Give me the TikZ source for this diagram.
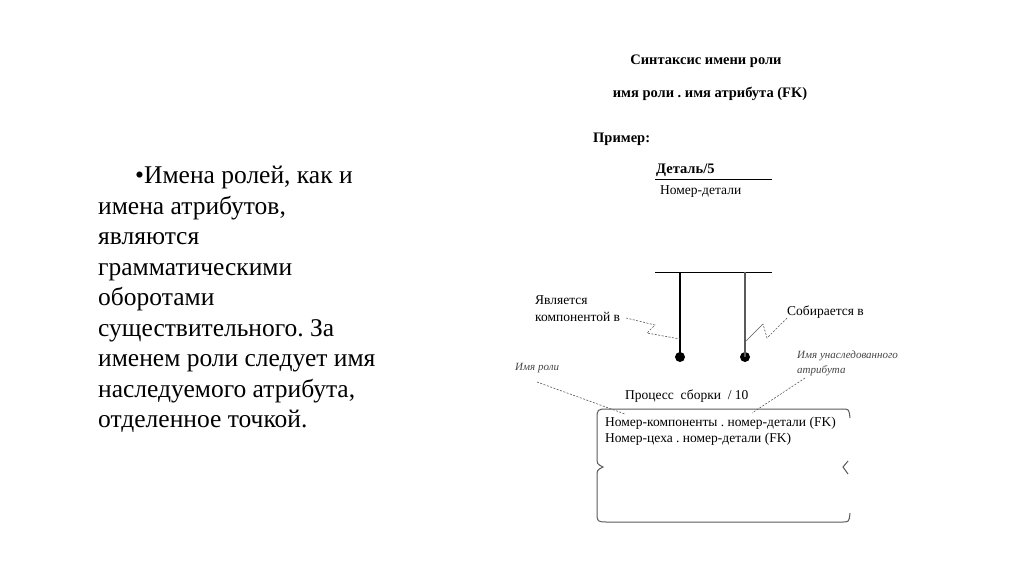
\documentclass[tikz,border=0pt]{standalone}
\usepackage{fontspec}
\setmainfont{Liberation Serif}
\usetikzlibrary{positioning}
\definecolor{linegrey}{RGB}{90,90,90}
\definecolor{notegrey}{RGB}{70,70,70}
\tikzset{
    bullettext/.style={
        anchor=north west,
        inner sep=0pt,
        align=left,
        font=\fontsize{25.5}{30.5}\selectfont
    },
    headline/.style={
        inner sep=0pt,
        font=\fontsize{14.5}{16}\selectfont\bfseries
    },
    plainlabel/.style={
        inner sep=0pt,
        align=left,
        font=\fontsize{13.5}{17}\selectfont
    },
    notelabel/.style={
        inner sep=0pt,
        align=left,
        text=notegrey,
        font=\fontsize{11}{15}\selectfont\itshape
    },
    leader/.style={
        linegrey,
        line width=0.6pt,
        dash pattern=on 2pt off 1.5pt
    },
    frame/.style={linegrey, line width=1pt},
    pin/.style={circle, fill=black, inner sep=0pt, minimum size=10pt}
}
\frenchspacing

\begin{document}
\begin{tikzpicture}[x=1pt,y=-1pt]

\useasboundingbox[fill=white] (0,0) rectangle (1024,576);

% ------------------------------------------------------------
% Left text
% ------------------------------------------------------------

\node[bullettext] (bullet) at (98,166)
{\hspace*{37pt}•Имена ролей, как и\\
имена атрибутов,\\
являются\\
грамматическими\\
оборотами\\
существительного. За\\
именем роли следует имя\\
наследуемого атрибута,\\
отделенное точкой.};

% ------------------------------------------------------------
% Syntax header
% ------------------------------------------------------------

\node[headline, anchor=base] (title) at (706,64)
{Синтаксис имени роли};

\node[headline, anchor=base] (syntax) at (710,97)
{имя роли . имя атрибута (FK)};

\node[headline, anchor=base west] (example) at (593,142)
{Пример:};

% ------------------------------------------------------------
% Entity: detail
% ------------------------------------------------------------

\node[headline, anchor=base west] (detail) at (656,173)
{Деталь/5};

\coordinate (detailL) at (655,179);
\coordinate (detailR) at (772,179);
\draw[line width=0.8pt] (detailL) -- (detailR);

\node[plainlabel, anchor=base west] (detailkey) at (660,194)
{Номер-детали};

\coordinate (detailbotL) at (655,272);
\coordinate (detailbotR) at (772,272);
\draw[line width=0.8pt] (detailbotL) -- (detailbotR);

% Relationship lines
\coordinate (compTop) at (680,272);
\coordinate (asmTop) at (745,272);
\node[pin] (compEnd) at (680,357) {};
\node[pin] (asmEnd) at (745,357) {};

\draw[line width=2pt] (compTop) -- (compEnd.center);
\draw[linegrey, line width=1.2pt] (asmTop) -- (asmEnd.center);

% ------------------------------------------------------------
% Relationship names
% ------------------------------------------------------------

\node[plainlabel, anchor=base west] (isComp) at (535,321)
{Является\\компонентой в};

\coordinate (compPin) at (680,339);
\draw[leader] (626,318) -- (655,325) -- (647,333) -- (compPin);

\node[plainlabel, anchor=base west] (assembled) at (787,315)
{Собирается в};

\coordinate (asmPin) at (746,341);
\draw[leader] (assembled.south west) -- (767,338) -- (763,324);
\draw[linegrey, line width=0.6pt] (763,324) -- (asmPin);

% ------------------------------------------------------------
% Notes
% ------------------------------------------------------------

\node[notelabel, anchor=base west] (roleNote) at (515,370)
{Имя роли};

\coordinate (roleTip) at (625,414);
\draw[leader] (537,382) -- (roleTip);

\node[notelabel, anchor=base west] (attrNote) at (797,373)
{Имя унаследованного\\атрибута};

\coordinate (attrTip) at (752,413);
\draw[leader] (805,378) -- (attrTip);

% ------------------------------------------------------------
% Entity: assembly process
% ------------------------------------------------------------

\node[plainlabel, anchor=base west] (process) at (625,399)
{Процесс\ \ сборки\ \ / 10};

\draw[frame] (842,409) -- (608,409)
    .. controls (597,409) .. (597,420) -- (597,457)
    .. controls (597,464) .. (603,467)
    .. controls (597,470) .. (597,477) -- (597,512)
    .. controls (597,522) .. (608,522) -- (842,522)
    .. controls (849,522) .. (850,513);
\draw[frame] (842,409) .. controls (849,409) .. (850,418);
\draw[frame] (848,461) -- (843,467) -- (848,474);

\node[plainlabel, anchor=base west, font=\fontsize{13.5}{16}\selectfont] (keys) at (605,442)
{Номер-компоненты . номер-детали (FK)\\
Номер-цеха . номер-детали (FK)};

\end{tikzpicture}
\end{document}
